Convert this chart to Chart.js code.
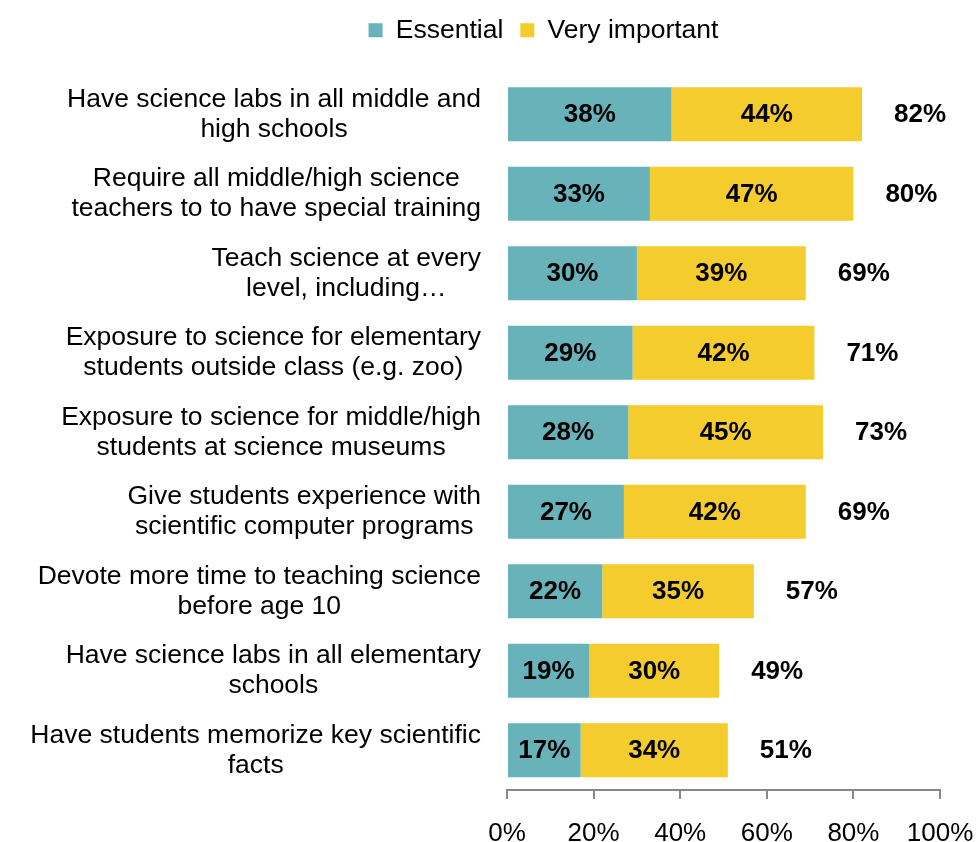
<!DOCTYPE html>
<html>
<head>
<meta charset="utf-8">
<script src="https://cdn.jsdelivr.net/npm/chart.js@4"></script>
<style>
  html, body { margin: 0; padding: 0; background: #fff; }
  #wrap { width: 977px; height: 842px; }
</style>
</head>
<body>
<div id="wrap"><canvas id="chart" width="977" height="842"></canvas></div>
<script>
// Survey items (two-line labels as drawn)
const categories = [
    ['Have science labs in all middle and', 'high schools'],
    ['Require all middle/high science', 'teachers to to have special training'],
    ['Teach science at every', 'level, including\u2026'],
    ['Exposure to science for elementary', 'students outside class (e.g. zoo)'],
    ['Exposure to science for middle/high', 'students at science museums'],
    ['Give students experience with', 'scientific computer programs'],
    ['Devote more time to teaching science', 'before age 10'],
    ['Have science labs in all elementary', 'schools'],
    ['Have students memorize key scientific', 'facts']
];
const essential = [38, 33, 30, 29, 28, 27, 22, 19, 17];
const veryImportant = [44, 47, 39, 42, 45, 42, 35, 30, 34];
const totals = [82, 80, 69, 71, 73, 69, 57, 49, 51];
const xTicks = [0, 20, 40, 60, 80, 100];

const FONT = '"Liberation Sans", Arial, sans-serif';

// Draws the in-bar values, the totals and the centred category labels
const labelPlugin = {
    id: 'barLabels',
    afterDatasetsDraw(chart) {
        const ctx = chart.ctx;
        const xs = chart.scales.x;
        const ys = chart.scales.y;
        ctx.save();
        ctx.fillStyle = '#000';
        ctx.textAlign = 'center';
        ctx.textBaseline = 'middle';
        ctx.font = 'bold 26px ' + FONT;

        chart.data.datasets.forEach((ds, di) => {
            chart.getDatasetMeta(di).data.forEach((bar, i) => {
                ctx.fillText(ds.data[i] + '%', (bar.x + bar.base) / 2, bar.y + 1);
            });
        });

        totals.forEach((t, i) => {
            ctx.fillText(t + '%', xs.getPixelForValue(t) + 58, ys.getPixelForValue(i) + 1);
        });

        ctx.font = '26.5px ' + FONT;
        categories.forEach((lines, i) => {
            const w = Math.max(...lines.map(l => ctx.measureText(l).width));
            const cx = ys.right - 26 - w / 2;
            const cy = ys.getPixelForTick(i);
            lines.forEach((l, k) => {
                ctx.fillText(l, cx, cy + (k - (lines.length - 1) / 2) * 30);
            });
        });
        ctx.restore();
    }
};

new Chart(document.getElementById('chart'), {
    type: 'bar',
    data: {
        labels: categories,
        datasets: [
            { label: 'Essential', data: essential, backgroundColor: '#67B3B9' },
            { label: 'Very important', data: veryImportant, backgroundColor: '#F4CC2E' }
        ]
    },
    options: {
        indexAxis: 'y',
        responsive: false,
        animation: false,
        categoryPercentage: 1,
        barPercentage: 0.68,
        layout: { padding: { left: 147, right: 37, top: 0, bottom: 0 } },
        plugins: {
            legend: {
                position: 'top',
                labels: {
                    font: { family: FONT, size: 26.5 },
                    color: '#000',
                    boxWidth: 14,
                    boxHeight: 14,
                    padding: 17
                }
            },
            // empty title used as a spacer between legend and bars
            title: {
                display: true,
                text: '',
                weight: 500,
                font: { size: 1, lineHeight: 1 },
                padding: { top: 0, bottom: 20 }
            },
            tooltip: { enabled: false }
        },
        scales: {
            x: {
                stacked: true,
                min: 0,
                max: 100,
                afterBuildTicks: s => { s.ticks = xTicks.map(v => ({ value: v })); },
                afterFit: s => {
                    s.height = 52;
                    s.paddingLeft = 0;
                    s.paddingRight = 0;
                },
                grid: { display: true, drawOnChartArea: false, drawTicks: true, tickLength: 9, color: '#888', lineWidth: 2 },
                border: { display: true, color: '#888', width: 2 },
                ticks: {
                    callback: v => v + '%',
                    font: { family: FONT, size: 26 },
                    color: '#000',
                    padding: 19,
                    maxRotation: 0
                }
            },
            y: {
                stacked: true,
                afterFit: s => { s.width = 360; },
                grid: { display: false },
                border: { display: false },
                ticks: { display: false }
            }
        }
    },
    plugins: [labelPlugin]
});
</script>
</body>
</html>
